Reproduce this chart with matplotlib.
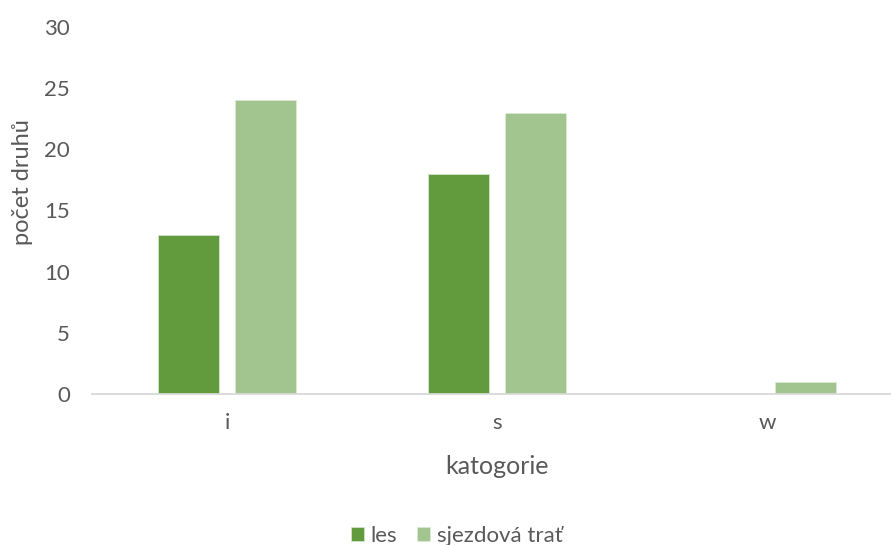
import matplotlib
matplotlib.use("Agg")
import matplotlib.pyplot as plt
import numpy as np

categories = ["i", "s", "w"]
les = [13, 18, 0]
sjezdova = [24, 23, 1]
series_names = ["les", "sjezdová trať"]

plt.rcParams['font.family'] = ['Lato', 'DejaVu Sans']
text_color = "#595959"

fig = plt.figure(figsize=(8.91, 5.45), dpi=100)
ax = fig.add_axes([92/891, 151/545, (891-92)/891, (394-27)/545])

x = np.arange(len(categories))
w = 0.226
off = 0.1426
b1 = ax.bar(x - off, les, width=w, color="#629A3E", edgecolor="#D5E3CB", linewidth=0.6, label=series_names[0])
b2 = ax.bar(x + off, sjezdova, width=w, color="#A2C48F", edgecolor="#DCE9D4", linewidth=0.6, label=series_names[1])

ax.set_xlim(-0.5, -0.5 + (891-92)/270)
ax.set_ylim(0, 30)
ax.set_yticks(range(0, 31, 5))
ax.set_xticks(x)
ax.set_xticklabels(categories)

for s in ["top", "right", "left"]:
    ax.spines[s].set_visible(False)
ax.spines["bottom"].set_color("#D9D9D9")
ax.spines["bottom"].set_linewidth(1.3)
ax.tick_params(axis="both", length=0, labelsize=16, colors=text_color)
ax.tick_params(axis="y", pad=16)
ax.tick_params(axis="x", pad=13.5)

ax.set_xlabel("katogorie", fontsize=18, color=text_color)
ax.xaxis.set_label_coords((497-92)/799, (394-455)/367)
ax.xaxis.label.set_va("top")
ax.set_ylabel("počet druhů", fontsize=17, color=text_color)
ax.yaxis.set_label_coords((33-92)/799, (394-182)/367)

leg = fig.legend(handles=[b1, b2], labels=series_names, loc="center", bbox_to_anchor=(457/891, 1 - 536/545),
                 ncol=2, frameon=False, fontsize=16, handlelength=0.58, handleheight=0.58,
                 handletextpad=0.32, columnspacing=0.9, labelcolor=text_color)

fig.savefig("out.png", dpi=100)
